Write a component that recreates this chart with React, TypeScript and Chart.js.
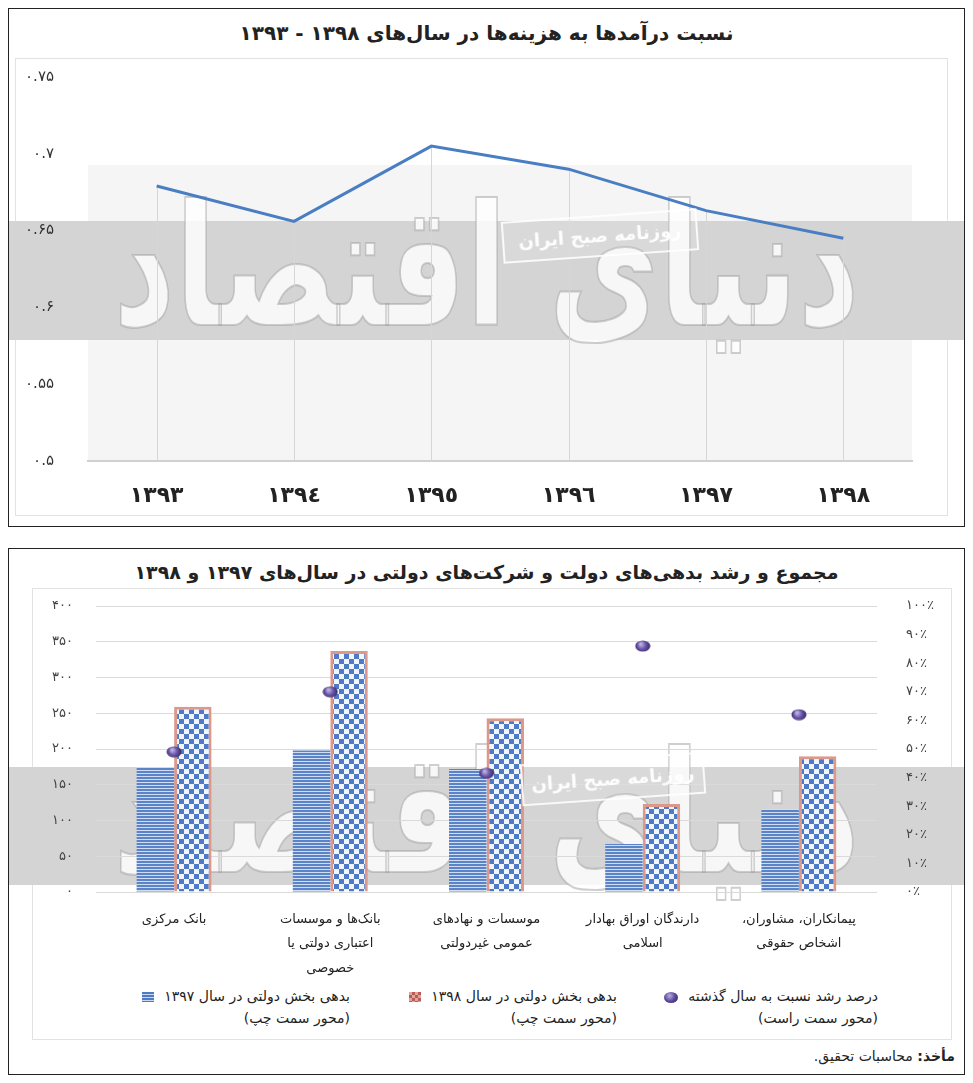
import { useEffect, useRef } from 'react'
import { Chart, registerables } from 'chart.js'

Chart.register(...registerables)

const FONT = '"DejaVu Sans", sans-serif'

// top chart: ratio of revenues to expenses
const years = ['١٣٩٣', '١٣٩٤', '١٣٩٥', '١٣٩٦', '١٣٩٧', '١٣٩٨']
const ratio = [0.679, 0.656, 0.705, 0.69, 0.663, 0.645]

// bottom chart: government debts by creditor
const creditors = [
  'بانک مرکزی',
  ['بانک‌ها و موسسات', 'اعتباری دولتی یا', 'خصوصی'],
  ['موسسات و نهادهای', 'عمومی غیردولتی'],
  ['دارندگان اوراق بهادار', 'اسلامی'],
  ['پیمانکاران، مشاوران،', 'اشخاص حقوقی'],
]
const debt1397 = [175, 198, 172, 67, 116]
const debt1398 = [259, 337, 243, 123, 190]
const growth = [0.49, 0.7, 0.415, 0.86, 0.62]

const fa = (s: string) => s.replace(/\d/g, (d) => '۰۱۲۳۴۵۶۷۸۹'[+d])

const tile = (w: number, h: number, draw: (c: CanvasRenderingContext2D) => void) => {
  const c = document.createElement('canvas')
  c.width = w
  c.height = h
  draw(c.getContext('2d')!)
  return c
}

// excel-style drop lines: from each point down to the x axis
const dropLines = {
  id: 'dropLines',
  beforeDatasetsDraw(chart: any) {
    const { ctx, chartArea } = chart
    ctx.save()
    ctx.strokeStyle = '#d6d6d6'
    ctx.lineWidth = 1
    chart.getDatasetMeta(0).data.forEach((p: any) => {
      ctx.beginPath()
      ctx.moveTo(Math.round(p.x) + 0.5, p.y)
      ctx.lineTo(Math.round(p.x) + 0.5, chartArea.bottom)
      ctx.stroke()
    })
    ctx.restore()
  },
}

function RatioChart() {
  const ref = useRef<HTMLCanvasElement | null>(null)

  useEffect(() => {
    if (!ref.current) return
    const chart = new Chart(ref.current, {
      type: 'line',
      data: {
        labels: years,
        datasets: [
          {
            data: ratio,
            borderColor: '#4a7ec2',
            borderWidth: 3,
            pointRadius: 0,
            tension: 0,
          },
        ],
      },
      options: {
        animation: false,
        responsive: false,
        events: [],
        layout: { padding: { top: 68, right: 52, left: 0, bottom: 0 } },
        plugins: { legend: { display: false }, tooltip: { enabled: false } },
        scales: {
          x: {
            offset: true,
            grid: { display: false },
            border: { color: '#d0d0d0', width: 2 },
            ticks: {
              padding: 14,
              color: '#222',
              font: { family: FONT, size: 22, weight: 'bold' },
            },
            afterFit: (s: any) => {
              s.height = 65
            },
          },
          y: {
            min: 0.5,
            max: 0.75,
            grid: { display: false },
            border: { display: false },
            ticks: {
              stepSize: 0.05,
              padding: 26,
              color: '#333',
              font: { family: FONT, size: 15 },
              callback: (v) => fa(String(Math.round(Number(v) * 100) / 100)),
            },
            afterFit: (s: any) => {
              s.width = 79
            },
          },
        },
      },
      plugins: [dropLines],
    })
    return () => chart.destroy()
  }, [])

  return (
    <canvas
      ref={ref}
      dir="rtl"
      width={955}
      height={517}
      style={{ position: 'absolute', left: 9, top: 9 }}
    />
  )
}

function DebtChart() {
  const ref = useRef<HTMLCanvasElement | null>(null)

  useEffect(() => {
    if (!ref.current) return
    const ctx = ref.current.getContext('2d')!
    const stripes = ctx.createPattern(
      tile(4, 3, (c) => {
        c.fillStyle = '#cfdcf1'
        c.fillRect(0, 0, 4, 3)
        c.fillStyle = '#5a84c7'
        c.fillRect(0, 0, 4, 2)
      }),
      'repeat'
    )
    const checker = ctx.createPattern(
      tile(10, 10, (c) => {
        c.fillStyle = '#f3f5fa'
        c.fillRect(0, 0, 10, 10)
        c.fillStyle = '#4d7bc8'
        c.fillRect(0, 0, 5, 5)
        c.fillRect(5, 5, 5, 5)
      }),
      'repeat'
    )
    const dot = tile(16, 12, (c) => {
      const g = c.createRadialGradient(6, 4, 1, 8, 6, 8)
      g.addColorStop(0, '#b9addf')
      g.addColorStop(0.45, '#6a56a8')
      g.addColorStop(1, '#2f2360')
      c.fillStyle = g
      c.beginPath()
      c.ellipse(8, 6, 7.5, 5.5, 0, 0, Math.PI * 2)
      c.fill()
    })

    const chart = new Chart(ref.current, {
      type: 'bar',
      data: {
        labels: creditors,
        datasets: [
          {
            type: 'line',
            label: 'درصد رشد نسبت به سال گذشته',
            data: growth,
            yAxisID: 'y1',
            showLine: false,
            pointStyle: dot,
            order: 0,
          },
          {
            label: 'بدهی بخش دولتی در سال ۱۳۹۷',
            data: debt1397,
            yAxisID: 'y',
            backgroundColor: stripes as any,
            borderWidth: 0,
            order: 1,
          },
          {
            label: 'بدهی بخش دولتی در سال ۱۳۹۸',
            data: debt1398,
            yAxisID: 'y',
            backgroundColor: checker as any,
            borderColor: '#dc998a',
            borderWidth: 3,
            order: 1,
          },
        ],
      },
      options: {
        animation: false,
        responsive: false,
        events: [],
        layout: { padding: { top: 57, right: 0, left: 0, bottom: 0 } },
        plugins: { legend: { display: false }, tooltip: { enabled: false } },
        datasets: { bar: { categoryPercentage: 0.48, barPercentage: 1 } },
        scales: {
          x: {
            grid: { display: false },
            border: { display: false },
            ticks: {
              padding: 8,
              autoSkip: false,
              maxRotation: 0,
              color: '#222',
              font: { family: FONT, size: 13, lineHeight: 1.85 },
            },
            afterFit: (s: any) => {
              s.height = 87
            },
          },
          y: {
            position: 'left',
            min: 0,
            max: 400,
            grid: { color: '#dadada', drawTicks: false },
            border: { display: false },
            ticks: {
              stepSize: 50,
              padding: 23,
              color: '#444',
              font: { family: FONT, size: 13 },
              callback: (v) => fa(String(v)),
            },
            afterFit: (s: any) => {
              s.width = 87
            },
          },
          y1: {
            position: 'right',
            min: 0,
            max: 1,
            grid: { display: false },
            border: { display: false },
            ticks: {
              stepSize: 0.1,
              padding: 21,
              color: '#444',
              font: { family: FONT, size: 13 },
              callback: (v) => fa(String(Math.round(Number(v) * 100))) + '٪',
            },
            afterFit: (s: any) => {
              s.width = 87
            },
          },
        },
      },
    })
    return () => chart.destroy()
  }, [])

  return (
    <canvas
      ref={ref}
      dir="rtl"
      width={955}
      height={430}
      style={{ position: 'absolute', left: 9, top: 549 }}
    />
  )
}

const abs = (s: React.CSSProperties): React.CSSProperties => ({
  position: 'absolute',
  boxSizing: 'border-box',
  ...s,
})

function Stamp({ x, y, w }: { x: number; y: number; w: number }) {
  return (
    <div
      dir="rtl"
      style={abs({
        left: x - w / 2,
        top: y - 21,
        width: w,
        height: 42,
        border: '2px solid rgba(255,255,255,0.85)',
        background: 'rgba(255,255,255,0.12)',
        color: 'rgba(255,255,255,0.95)',
        fontSize: 18,
        fontWeight: 'bold',
        lineHeight: '38px',
        textAlign: 'center',
        whiteSpace: 'nowrap',
        transform: 'rotate(-4deg)',
      })}
    >
      روزنامه صبح ایران
    </div>
  )
}

function Watermark({ y }: { y: number }) {
  return (
    <div
      dir="rtl"
      style={abs({
        left: 8,
        top: y - 90,
        width: 957,
        height: 180,
        lineHeight: '180px',
        textAlign: 'center',
        fontSize: 120,
        fontWeight: 'bold',
        color: 'rgba(255,255,255,0.8)',
        WebkitTextStroke: '1.5px rgba(160,160,160,0.5)',
        whiteSpace: 'nowrap',
        overflow: 'hidden',
        transform: 'scaleY(1.4)',
      })}
    >
      دنیای اقتصاد
    </div>
  )
}

function LegendItem({
  right,
  text,
  marker,
}: {
  right: number
  text: string
  marker: React.CSSProperties
}) {
  return (
    <div
      dir="rtl"
      style={abs({
        right,
        top: 985,
        fontSize: 14,
        lineHeight: '22px',
        color: '#222',
        textAlign: 'right',
        whiteSpace: 'nowrap',
      })}
    >
      <div>
        {text}
        <span
          style={{
            display: 'inline-block',
            marginRight: 10,
            verticalAlign: 'middle',
            ...marker,
          }}
        />
      </div>
      <div>(محور سمت {right < 200 ? 'راست' : 'چپ'})</div>
    </div>
  )
}

export default function App() {
  return (
    <div
      style={abs({
        left: 0,
        top: 0,
        width: 973,
        height: 1083,
        background: '#fff',
        fontFamily: FONT,
      })}
    >
      {/* top panel */}
      <div style={abs({ left: 8, top: 8, width: 957, height: 519, border: '1px solid #222' })} />
      <div style={abs({ left: 15, top: 58, width: 933, height: 458, border: '1px solid #e2e2e2' })} />
      <div style={abs({ left: 88, top: 165, width: 824, height: 296, background: '#f5f5f5' })} />
      <div style={abs({ left: 9, top: 221, width: 955, height: 119, background: '#d4d4d4' })} />
      <Watermark y={268} />
      <div
        dir="rtl"
        style={abs({
          left: 8,
          top: 18,
          width: 957,
          height: 30,
          lineHeight: '30px',
          textAlign: 'center',
          fontSize: 20,
          fontWeight: 'bold',
          color: '#222',
        })}
      >
        نسبت درآمدها به هزینه‌ها در سال‌های ۱۳۹۸ - ۱۳۹۳
      </div>
      <RatioChart />
      <Stamp x={600} y={236} w={196} />

      {/* bottom panel */}
      <div style={abs({ left: 8, top: 548, width: 957, height: 527, border: '1px solid #222' })} />
      <div style={abs({ left: 32, top: 588, width: 920, height: 452, border: '1px solid #e2e2e2' })} />
      <div style={abs({ left: 9, top: 767, width: 955, height: 118, background: '#d4d4d4' })} />
      <Watermark y={815} />
      <div
        dir="rtl"
        style={abs({
          left: 8,
          top: 558,
          width: 957,
          height: 28,
          lineHeight: '28px',
          textAlign: 'center',
          fontSize: 19,
          fontWeight: 'bold',
          color: '#222',
        })}
      >
        مجموع و رشد بدهی‌های دولت و شرکت‌های دولتی در سال‌های ۱۳۹۷ و ۱۳۹۸
      </div>
      <DebtChart />
      <Stamp x={613} y={779} w={184} />

      <LegendItem
        right={95}
        text="درصد رشد نسبت به سال گذشته"
        marker={{
          width: 14,
          height: 11,
          borderRadius: '50%',
          background: 'radial-gradient(circle at 40% 35%, #b9addf, #5a479a 50%, #2f2360)',
        }}
      />
      <LegendItem
        right={356}
        text="بدهی بخش دولتی در سال ۱۳۹۸"
        marker={{
          width: 12,
          height: 10,
          background: 'repeating-conic-gradient(#b65d57 0 25%, #e3a49a 0 50%) 0 0 / 6px 6px',
        }}
      />
      <LegendItem
        right={623}
        text="بدهی بخش دولتی در سال ۱۳۹۷"
        marker={{
          width: 12,
          height: 10,
          background: 'repeating-linear-gradient(#4e7bc4 0 2px, #c9d7ef 2px 3px)',
        }}
      />
      <div
        dir="rtl"
        style={abs({
          right: 18,
          top: 1045,
          fontSize: 14,
          lineHeight: '22px',
          color: '#222',
          whiteSpace: 'nowrap',
        })}
      >
        <b>مأخذ:</b> محاسبات تحقیق.
      </div>
    </div>
  )
}
